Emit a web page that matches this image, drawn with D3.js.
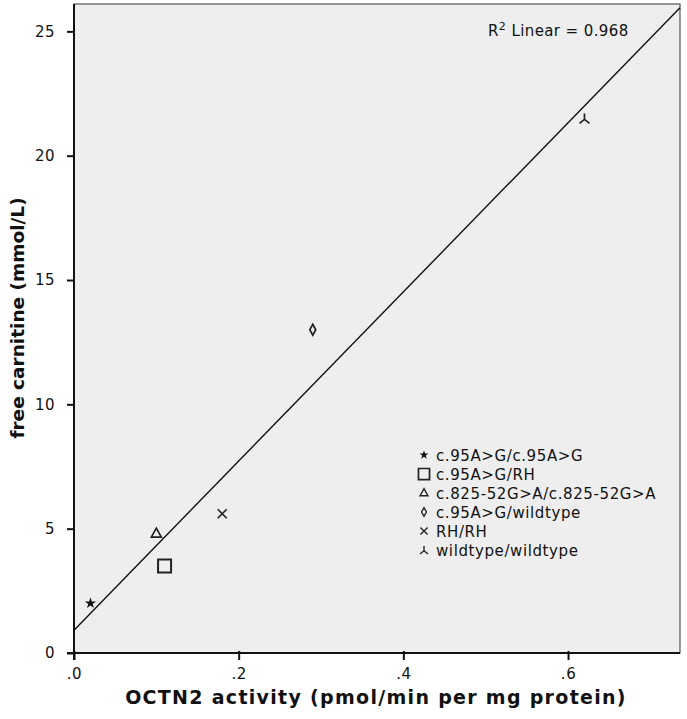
<!DOCTYPE html>
<html>
<head>
<meta charset="utf-8">
<script src="https://cdn.jsdelivr.net/npm/d3@7"></script>
<style>
  body { margin: 0; background: #fff; }
  svg text { font-family: "DejaVu Sans", Verdana, sans-serif; fill: #111; }
</style>
</head>
<body>
<div id="chart"></div>
<script>
// data
const genotypes = ["c.95A>G/c.95A>G", "c.95A>G/RH", "c.825-52G>A/c.825-52G>A",
                   "c.95A>G/wildtype", "RH/RH", "wildtype/wildtype"];
const markers = ["star", "square", "triangle", "diamond", "cross", "tripod"];
const activity = [0.02, 0.11, 0.10, 0.29, 0.18, 0.62];
const carnitine = [2.0, 3.5, 4.8, 13.0, 5.6, 21.5];
const xTicks = [0, 0.2, 0.4, 0.6];
const yTicks = [0, 5, 10, 15, 20, 25];
const r2Label = "0.968";

const W = 687, H = 719;
const margin = { top: 4, right: 7, bottom: 66, left: 74 };
const width = W - margin.left - margin.right,
      height = H - margin.top - margin.bottom;

const svg = d3.select("#chart").append("svg")
    .attr("width", W).attr("height", H);

const g = svg.append("g")
    .attr("transform", "translate(" + margin.left + "," + margin.top + ")");

const x = d3.scaleLinear().domain([0, 0.736]).range([0, width]);
const y = d3.scaleLinear().domain([0, 26.1]).range([height, 0]);

// plot background + frame
g.append("rect")
    .attr("width", width).attr("height", height)
    .attr("fill", "#eeeeee")
    .attr("stroke", "#555").attr("stroke-width", 1.2);

// axes
const xAxis = g.append("g")
    .attr("transform", "translate(0," + height + ")")
    .call(d3.axisBottom(x).tickValues(xTicks).tickSize(7).tickSizeOuter(0)
        .tickFormat(d => d3.format(".1f")(d).replace(/^0/, "")));
const yAxis = g.append("g")
    .call(d3.axisLeft(y).tickValues(yTicks).tickSize(7).tickSizeOuter(0));

[xAxis, yAxis].forEach(a => {
    a.select(".domain").attr("stroke", "#111").attr("stroke-width", 2);
    a.selectAll(".tick line").attr("stroke", "#111").attr("stroke-width", 2);
    a.selectAll(".tick text").style("font-size", "15px").attr("fill", "#111")
        .style("letter-spacing", "0.5px");
});
xAxis.selectAll(".tick line").attr("y1", -2);
xAxis.selectAll(".tick text").attr("dy", "1.05em");
yAxis.selectAll(".tick text").attr("dx", "-0.6em");
// extend domains to the corner like the original
xAxis.select(".domain").attr("d", "M-7,0H" + width);
yAxis.select(".domain").attr("d", "M0,0V" + (height + 7));

// linear fit line computed from the points
const mx = d3.mean(activity), my = d3.mean(carnitine);
const sxy = d3.sum(activity, (v, i) => (v - mx) * (carnitine[i] - my));
const sxx = d3.sum(activity, v => (v - mx) * (v - mx));
const slope = sxy / sxx, intercept = my - slope * mx;
const x0 = 0, x1 = x.domain()[1];
g.append("line")
    .attr("x1", x(x0)).attr("y1", y(intercept + slope * x0))
    .attr("x2", x(x1)).attr("y2", y(intercept + slope * x1))
    .attr("stroke", "#111").attr("stroke-width", 1.4);

// marker shapes
function markerPath(type) {
    switch (type) {
        case "star": return d3.symbol(d3.symbolStar, 40)();
        case "square": return "M-6.5,-6.5H6.5V6.5H-6.5Z";
        case "triangle": return "M0,-5.5L5,3.5H-5Z";
        case "diamond": return "M0,-5.5L3,0L0,5.5L-3,0Z";
        case "cross": return "M-4.5,-4.5L4.5,4.5M4.5,-4.5L-4.5,4.5";
        case "tripod": return "M0,-5V1M0,1L-5,5M0,1L5,5";
    }
}
function styleMarker(sel, type) {
    if (type === "star") sel.attr("fill", "#111").attr("stroke", "none");
    else sel.attr("fill", "none").attr("stroke", "#222").attr("stroke-width", type === "square" ? 2 : 1.7);
}

const pts = d3.range(activity.length);
g.selectAll("path.pt")
    .data(pts).join("path")
    .attr("class", "pt")
    .attr("transform", i => "translate(" + x(activity[i]) + "," + y(carnitine[i]) + ")")
    .attr("d", i => markerPath(markers[i]))
    .each(function (i) { styleMarker(d3.select(this), markers[i]); });

// legend
const legend = g.append("g").attr("transform", "translate(350,451)");
genotypes.forEach((name, i) => {
    const row = legend.append("g").attr("transform", "translate(0," + (i * 19) + ")");
    const m = row.append("path")
        .attr("transform", "translate(0,0) scale(" + (markers[i] === "square" ? 0.85 : 0.8) + ")")
        .attr("d", markerPath(markers[i]));
    styleMarker(m, markers[i]);
    row.append("text").attr("x", 12).attr("y", 5.5)
        .style("font-size", "15px").style("letter-spacing", "0.6px").text(name);
});

// R squared label
const r2 = g.append("text").attr("x", 414).attr("y", 32)
    .style("font-size", "15px").style("letter-spacing", "0.4px");
r2.append("tspan").text("R");
r2.append("tspan").attr("dy", -6).style("font-size", "11px").text("2");
r2.append("tspan").attr("dy", 6).text(" Linear = " + r2Label);

// axis titles
svg.append("text")
    .attr("x", 376).attr("y", 704)
    .attr("text-anchor", "middle")
    .style("font-size", "19px").style("font-weight", "bold")
    .style("letter-spacing", "1.3px")
    .text("OCTN2 activity (pmol/min per mg protein)");
svg.append("text")
    .attr("transform", "translate(24,318) rotate(-90)")
    .attr("text-anchor", "middle")
    .style("font-size", "18.5px").style("font-weight", "bold")
    .text("free carnitine (mmol/L)");
</script>
</body>
</html>
